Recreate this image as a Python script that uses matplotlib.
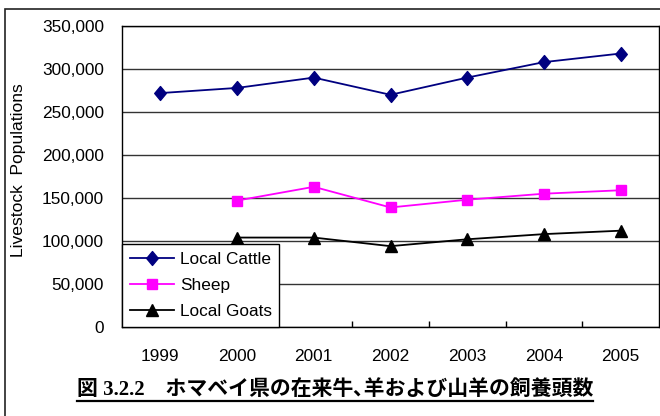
import numpy as np
import matplotlib
matplotlib.use("Agg")
import matplotlib.pyplot as plt
from matplotlib.path import Path
from matplotlib.lines import Line2D
from matplotlib.patches import Rectangle
from matplotlib.ticker import FuncFormatter, MultipleLocator

plt.rcParams['font.family'] = ['Liberation Sans', 'DejaVu Sans']

years = ['1999', '2000', '2001', '2002', '2003', '2004', '2005']
cattle = [272000, 278000, 290000, 270000, 290000, 308000, 318000]
sheep = [np.nan, 147000, 163000, 139000, 148000, 155000, 159000]
goats = [np.nan, 104000, 104000, 94000, 102000, 108000, 112000]
series_names = ['Local Cattle', 'Sheep', 'Local Goats']
y_label = 'Livestock  Populations'
caption = '図 3.2.2\u3000ホマベイ県の在来牛､羊および山羊の飼養頭数'

W, H = 660, 416
fig = plt.figure(figsize=(W / 100, H / 100), dpi=100)
fig.patch.set_facecolor('white')

# outer chart frame (left and top edges visible)
fig.patches.append(Rectangle((5 / W, -0.2), 1.2, 1.2 - 9 / H,
                             transform=fig.transFigure, fill=False,
                             edgecolor='#222222', linewidth=1.2, clip_on=False))

ax = fig.add_axes([122 / W, 1 - 327 / H, 537 / W, 301 / H])
x = np.arange(len(years))

tall_diamond = Path([(0, 1.2), (1, 0), (0, -1.2), (-1, 0), (0, 1.2)],
                    [Path.MOVETO, Path.LINETO, Path.LINETO, Path.LINETO, Path.CLOSEPOLY])

ax.plot(x, cattle, color='#000080', lw=1.3, marker=tall_diamond, markersize=10,
        markerfacecolor='#000080', markeredgecolor='#000080', label=series_names[0], zorder=3)
ax.plot(x, sheep, color='#FF00FF', lw=1.3, marker='s', markersize=7,
        markerfacecolor='#FF00FF', markeredgecolor='#FF00FF', label=series_names[1], zorder=3)
ax.plot(x, goats, color='black', lw=1.3, marker='^', markersize=8,
        markerfacecolor='black', markeredgecolor='black', label=series_names[2], zorder=3)

ax.set_xlim(-0.5, len(years) - 0.5)
ax.set_ylim(0, 350000)
ax.yaxis.set_major_locator(MultipleLocator(50000))
ax.yaxis.set_major_formatter(FuncFormatter(lambda v, p: f'{int(v):,}'))
ax.grid(axis='y', color='#333333', linewidth=1.0, zorder=0)
ax.set_axisbelow(True)

ax.set_xticks(x)
ax.set_xticklabels(years)
ax.set_xticks(np.arange(0.5, len(years) - 1, 1.0), minor=True)
ax.tick_params(axis='x', which='major', length=0, pad=16, labelsize=12.4)
ax.tick_params(axis='x', which='minor', direction='in', length=4, width=1, color='black')
ax.tick_params(axis='y', which='major', length=0, pad=13, labelsize=12.4)
for s in ax.spines.values():
    s.set_color('black')
    s.set_linewidth(1.0)

ax.set_ylabel(y_label, fontsize=12.6, labelpad=0)
ax.yaxis.set_label_coords(-(122 - 19) / 537, 0.52)
ax.yaxis.label.set_va('center')

leg = ax.legend(loc='lower left', bbox_to_anchor=(0, 0), borderaxespad=0,
                fontsize=12.4, frameon=True, fancybox=False, shadow=False,
                handlelength=2.55, handletextpad=0.35, labelspacing=0.65,
                borderpad=0.45)
leg.get_frame().set_edgecolor('black')
leg.get_frame().set_linewidth(1.0)
leg.get_frame().set_facecolor('white')
leg.get_frame().set_alpha(1)
leg.set_zorder(5)

title = fig.text(335 / W, 1 - 390 / H, caption, ha='center', va='center',
                 fontsize=15, fontweight='bold',
                 family=['Liberation Serif', 'Noto Sans CJK JP'])

# underline beneath the caption
fig.canvas.draw()
bb = title.get_window_extent()
uy = (H - 401) / H
fig.add_artist(Line2D([bb.x0 / W, bb.x1 / W], [uy, uy], transform=fig.transFigure,
                      color='black', linewidth=1.6))

fig.savefig('out.png', dpi=100, facecolor='white')
